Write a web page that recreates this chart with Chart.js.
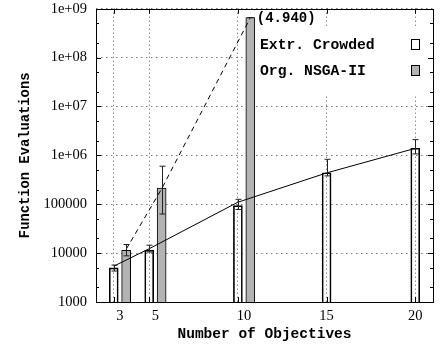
<!DOCTYPE html>
<html>
<head>
<meta charset="utf-8">
<script src="https://cdn.jsdelivr.net/npm/chart.js@4/dist/chart.umd.min.js"></script>
<style>
  body { margin: 0; background: #fff; }
  #wrap { width: 442px; height: 345px; }
</style>
</head>
<body>
<div id="wrap"><canvas id="evals-chart"></canvas></div>
<script>
// values
const objectives = [3, 5, 10, 15, 20];
const crowded = [5000, 11500, 94000, 440000, 1400000];
const crowdedLow = [4300, 10500, 78000, 380000, 1070000];
const crowdedHigh = [5700, 14500, 126000, 830000, 2100000];
const crowdedFit = [5400, 12300, 110000, 437000, 1390000];
const nsga = [11400, 215000, 660000000];
const nsgaLow = [8800, 63000, 660000000];
const nsgaHigh = [15000, 600000, 660000000];
const nsgaFit = [12000, 206000, 650000000];
const nsgaNote = '(4.940)';
const seriesNames = ['Extr. Crowded', 'Org. NSGA-II'];
const yTicks = [1e3, 1e4, 1e5, 1e6, 1e7, 1e8, 1e9];

const SHIFT = 0.7;      // gray bar sits right of the white one
const GRAY = '#b3b3b3';
const MONO = "'Liberation Mono', 'DejaVu Sans Mono', monospace";
const SERIF = "'Liberation Serif', 'DejaVu Serif', serif";

const labelPos = objectives.map((o, i) => i < nsga.length ? o + SHIFT / 2 : o);

function fmtY(v) {
  if (v >= 1e6) return '1e+0' + Math.round(Math.log10(v));
  return String(Math.round(v));
}

const frame = {
  id: 'frame',
  afterDatasetsDraw(chart) {
    const ctx = chart.ctx;
    const a = chart.chartArea;
    const y = chart.scales.y;
    const x = chart.scales.x;
    ctx.save();

    // error bars
    const errs = [[0, crowdedLow, crowdedHigh], [1, nsgaLow, nsgaHigh]];
    errs.forEach(([idx, lo, hi]) => {
      const meta = chart.getDatasetMeta(idx);
      meta.data.forEach((el, i) => {
        const px = Math.round(el.x) + 0.5;
        const y1 = y.getPixelForValue(lo[i]);
        const y2 = y.getPixelForValue(hi[i]);
        ctx.strokeStyle = '#222';
        ctx.lineWidth = 1;
        ctx.beginPath();
        ctx.moveTo(px, y1); ctx.lineTo(px, y2);
        ctx.moveTo(px - 3, y1); ctx.lineTo(px + 3, y1);
        ctx.moveTo(px - 3, y2); ctx.lineTo(px + 3, y2);
        ctx.stroke();
      });
    });

    // legend (opaque key box)
    ctx.fillStyle = '#fff';
    ctx.fillRect(256, 27, a.right - 256, 69);
    ctx.font = 'bold 14.7px ' + MONO;
    ctx.fillStyle = '#000';
    ctx.textBaseline = 'middle';
    ctx.textAlign = 'left';
    ctx.fillText(seriesNames[0], 260, 45);
    ctx.fillText(seriesNames[1], 260, 71);
    ctx.lineWidth = 1;
    ctx.strokeStyle = '#000';
    ctx.fillStyle = '#fff';
    ctx.fillRect(411.5, 39.5, 8, 10);
    ctx.strokeRect(411.5, 39.5, 8, 10);
    ctx.fillStyle = GRAY;
    ctx.fillRect(411.5, 65.5, 8, 10);
    ctx.strokeRect(411.5, 65.5, 8, 10);

    // value note next to the tall bar
    const tall = chart.getDatasetMeta(1).data[nsga.length - 1];
    ctx.font = 'bold 14px ' + MONO;
    ctx.fillStyle = '#000';
    ctx.fillText(nsgaNote, tall.x + tall.width / 2 + 2, tall.y + 1);

    // inward tick marks, mirrored
    ctx.strokeStyle = '#000';
    ctx.beginPath();
    for (let d = 1e3; d <= 1e9; d *= 10) {
      const py = Math.round(y.getPixelForValue(d)) + 0.5;
      ctx.moveTo(a.left, py); ctx.lineTo(a.left + 5, py);
      ctx.moveTo(a.right, py); ctx.lineTo(a.right - 5, py);
      if (d < 1e9) {
        [2, 5].forEach(m => {
          const pm = Math.round(y.getPixelForValue(d * m)) + 0.5;
          ctx.moveTo(a.left, pm); ctx.lineTo(a.left + 3, pm);
          ctx.moveTo(a.right, pm); ctx.lineTo(a.right - 3, pm);
        });
      }
    }
    objectives.forEach(o => {
      const px = Math.round(x.getPixelForValue(o)) + 0.5;
      ctx.moveTo(px, a.bottom); ctx.lineTo(px, a.bottom - 5);
      ctx.moveTo(px, a.top); ctx.lineTo(px, a.top + 5);
    });
    ctx.stroke();

    // border box
    ctx.strokeRect(Math.round(a.left) + 0.5, Math.round(a.top) + 0.5,
      Math.round(a.right - a.left), Math.round(a.bottom - a.top));
    ctx.restore();
  }
};

new Chart(document.getElementById('evals-chart'), {
  type: 'bar',
  data: {
    datasets: [
      {
        label: seriesNames[0],
        data: objectives.map((o, i) => ({ x: o, y: crowded[i] })),
        backgroundColor: 'rgba(255,255,255,0)',
        borderColor: '#000',
        borderWidth: 1,
        barThickness: 9,
        grouped: false,
        order: 2
      },
      {
        label: seriesNames[1],
        data: nsga.map((v, i) => ({ x: objectives[i] + SHIFT, y: v })),
        backgroundColor: GRAY,
        borderColor: '#000',
        borderWidth: 1,
        barThickness: 9,
        grouped: false,
        order: 2
      },
      {
        type: 'line',
        label: 'fit crowded',
        data: objectives.map((o, i) => ({ x: o, y: crowdedFit[i] })),
        borderColor: '#000',
        borderWidth: 1,
        pointRadius: 0,
        fill: false,
        order: 1
      },
      {
        type: 'line',
        label: 'fit nsga',
        data: nsgaFit.map((v, i) => ({ x: objectives[i] + SHIFT, y: v })),
        borderColor: '#000',
        borderWidth: 1,
        borderDash: [5, 4],
        pointRadius: 0,
        fill: false,
        order: 1
      }
    ]
  },
  options: {
    responsive: true,
    maintainAspectRatio: false,
    animation: false,
    layout: { padding: { top: 0, right: 9, left: 0, bottom: 0 } },
    plugins: {
      legend: { display: false },
      tooltip: { enabled: false }
    },
    scales: {
      x: {
        type: 'linear',
        min: 2,
        max: 21,
        offset: false,
        afterBuildTicks: s => { s.ticks = objectives.map(v => ({ value: v })); },
        afterFit: s => { s.height = 0; },
        ticks: { display: false },
        grid: { color: '#555', lineWidth: 1, drawTicks: false, offset: false },
        border: { display: false, dash: [1, 3] }
      },
      xl: {
        type: 'linear',
        position: 'bottom',
        min: 2,
        max: 21,
        offset: false,
        afterBuildTicks: s => {
          s.ticks = labelPos.map(v => ({ value: v }));
        },
        afterFit: s => { s.height = 43; },
        grid: { display: false, drawTicks: false },
        border: { display: false },
        ticks: {
          autoSkip: false,
          maxRotation: 0,
          padding: 5,
          color: '#000',
          font: { family: SERIF, size: 14.5 },
          callback: (v, i) => String(objectives[i])
        },
        title: {
          display: true,
          text: 'Number of Objectives',
          color: '#000',
          font: { family: MONO, size: 14.5, weight: 'bold' },
          padding: { top: 0, bottom: 2 }
        }
      },
      y: {
        type: 'logarithmic',
        min: 1000,
        max: 1e9,
        afterBuildTicks: s => { s.ticks = yTicks.map(v => ({ value: v })); },
        afterFit: s => { s.width = 96; },
        grid: { color: '#777', lineWidth: 1, drawTicks: true, tickLength: 9, tickColor: 'rgba(0,0,0,0)' },
        border: { display: false, dash: [1.5, 3.5] },
        ticks: {
          padding: 0,
          color: '#000',
          font: { family: SERIF, size: 14.5 },
          callback: v => fmtY(v)
        },
        title: {
          display: true,
          text: 'Function Evaluations',
          color: '#000',
          font: { family: MONO, size: 13.8, weight: 'bold' },
          padding: { top: 17, bottom: 0 }
        }
      }
    }
  },
  plugins: [frame]
});
</script>
</body>
</html>
